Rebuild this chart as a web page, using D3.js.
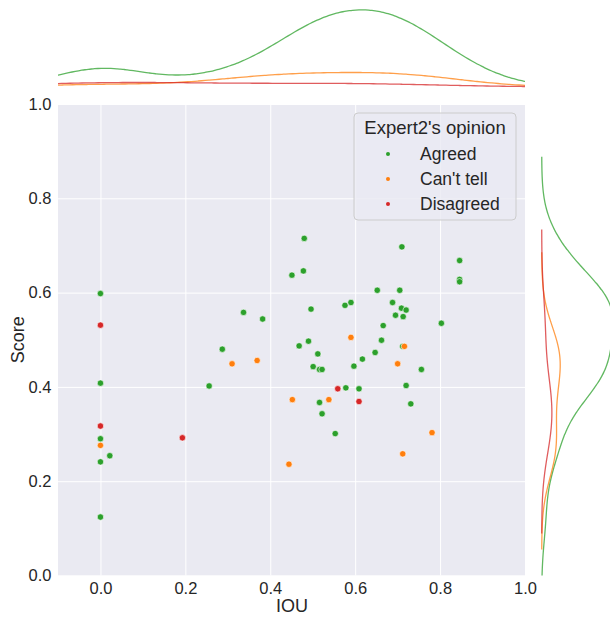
<!DOCTYPE html>
<html lang="en">
<head>
    <meta charset="UTF-8">
    <title>Expert2's opinion</title>
    <script src="https://d3js.org/d3.v7.min.js"></script>
    <style>
        body { margin: 0; background: #ffffff; }
        text { font-family: "Liberation Sans", Arial, sans-serif; fill: #262626; }
    </style>
</head>
<body>
<svg width="610" height="619"></svg>
<script>
    // categories and colours (seaborn default palette)
    var categories = ["Agreed", "Can't tell", "Disagreed"];
    var colors = ["#2ca02c", "#ff7f0e", "#d62728"];

    // [IOU, Score]
    var agreedPts = [
        [0, 0.598], [0, 0.408], [0, 0.290], [0.022, 0.254], [0, 0.241], [0, 0.124],
        [0.256, 0.402], [0.287, 0.480], [0.337, 0.558], [0.382, 0.544], [0.451, 0.637],
        [0.480, 0.715], [0.478, 0.646], [0.468, 0.487], [0.490, 0.497], [0.496, 0.565],
        [0.512, 0.470], [0.501, 0.443], [0.516, 0.437], [0.522, 0.437], [0.516, 0.367],
        [0.522, 0.343], [0.553, 0.301], [0.576, 0.573], [0.590, 0.579], [0.578, 0.398],
        [0.597, 0.444], [0.609, 0.396], [0.617, 0.459], [0.647, 0.473], [0.652, 0.605],
        [0.662, 0.499], [0.666, 0.530], [0.688, 0.579], [0.695, 0.552], [0.705, 0.605],
        [0.709, 0.567], [0.713, 0.549], [0.720, 0.563], [0.710, 0.697], [0.712, 0.486],
        [0.720, 0.403], [0.731, 0.364], [0.756, 0.437], [0.803, 0.535], [0.846, 0.668],
        [0.846, 0.628], [0.846, 0.623]
    ];
    var cantTellPts = [
        [0, 0.276], [0.310, 0.449], [0.369, 0.456], [0.444, 0.236], [0.452, 0.373],
        [0.538, 0.373], [0.590, 0.505], [0.700, 0.449], [0.716, 0.486], [0.712, 0.258],
        [0.781, 0.303]
    ];
    var disagreedPts = [
        [0, 0.531], [0, 0.317], [0.193, 0.292], [0.559, 0.396], [0.609, 0.369]
    ];
    var groups = [agreedPts, cantTellPts, disagreedPts];

    var xTicks = [0.0, 0.2, 0.4, 0.6, 0.8, 1.0];
    var yTicks = [0.0, 0.2, 0.4, 0.6, 0.8, 1.0];

    var plotL = 58, plotR = 525, plotT = 104, plotB = 575.5;
    var margBase = 87;      // baseline of top marginal
    var margBaseR = 541.7;  // baseline of right marginal

    var svg = d3.select("svg");

    var x = d3.scaleLinear().domain([-0.1, 1.0]).range([plotL, plotR]);
    var y = d3.scaleLinear().domain([0, 1]).range([plotB, plotT]);

    // gaussian kde like scipy (scott's rule), weighted by group share
    function kde(values, weight) {
        var n = values.length;
        var sd = d3.deviation(values);
        var bw = sd * Math.pow(n, -0.2);
        var lo = d3.min(values) - 3 * bw, hi = d3.max(values) + 3 * bw;
        var out = [];
        for (var i = 0; i < 200; i++) {
            var t = lo + (hi - lo) * i / 199;
            var s = 0;
            values.forEach(function (v) {
                var z = (t - v) / bw;
                s += Math.exp(-0.5 * z * z);
            });
            out.push([t, weight * s / (n * bw * Math.sqrt(2 * Math.PI))]);
        }
        return out;
    }

    var total = d3.sum(groups, function (g) { return g.length; });
    var kdeX = groups.map(function (g) { return kde(g.map(function (d) { return d[0]; }), g.length / total); });
    var kdeY = groups.map(function (g) { return kde(g.map(function (d) { return d[1]; }), g.length / total); });

    // plot background
    svg.append("rect")
        .attr("x", plotL).attr("y", plotT)
        .attr("width", plotR - plotL).attr("height", plotB - plotT)
        .attr("fill", "#eaeaf2");

    // grid lines
    svg.append("g")
        .attr("transform", "translate(0," + plotB + ")")
        .call(d3.axisBottom(x).tickValues(xTicks).tickSize(-(plotB - plotT)).tickFormat(""))
        .call(function (g) { g.select(".domain").remove(); })
        .selectAll("line").attr("stroke", "#ffffff").attr("stroke-width", 1);
    svg.append("g")
        .attr("transform", "translate(" + plotL + ",0)")
        .call(d3.axisLeft(y).tickValues(yTicks).tickSize(-(plotR - plotL)).tickFormat(""))
        .call(function (g) { g.select(".domain").remove(); })
        .selectAll("line").attr("stroke", "#ffffff").attr("stroke-width", 1);

    // tick labels
    var xAxis = svg.append("g")
        .attr("transform", "translate(0," + plotB + ")")
        .call(d3.axisBottom(x).tickValues(xTicks).tickSize(0).tickPadding(6.5).tickFormat(d3.format(".1f")));
    xAxis.select(".domain").remove();
    xAxis.selectAll("text").attr("font-size", 16.5).attr("fill", "#262626")
        .attr("font-family", "Liberation Sans, Arial, sans-serif");

    var yAxis = svg.append("g")
        .attr("transform", "translate(" + plotL + ",0)")
        .call(d3.axisLeft(y).tickValues(yTicks).tickSize(0).tickPadding(6.5).tickFormat(d3.format(".1f")));
    yAxis.select(".domain").remove();
    yAxis.selectAll("text").attr("font-size", 16.5).attr("fill", "#262626")
        .attr("font-family", "Liberation Sans, Arial, sans-serif");

    // axis titles
    svg.append("text").attr("x", (plotL + plotR) / 2 + 0.5).attr("y", 612)
        .attr("text-anchor", "middle").attr("font-size", 18).text("IOU");
    svg.append("text").attr("transform", "translate(24," + ((plotT + plotB) / 2) + ") rotate(-90)")
        .attr("text-anchor", "middle").attr("font-size", 18).text("Score");

    // scatter points
    groups.forEach(function (g, i) {
        svg.append("g").selectAll("circle").data(g).enter().append("circle")
            .attr("cx", function (d) { return x(d[0]); })
            .attr("cy", function (d) { return y(d[1]); })
            .attr("r", 3.2)
            .attr("fill", colors[i])
            .attr("stroke", "#ffffff")
            .attr("stroke-width", 0.6);
    });

    // marginal plots
    var defs = svg.append("defs");
    defs.append("clipPath").attr("id", "clipTop").append("rect")
        .attr("x", plotL).attr("y", 0).attr("width", plotR - plotL).attr("height", margBase + 5);
    defs.append("clipPath").attr("id", "clipRight").append("rect")
        .attr("x", margBaseR - 5).attr("y", plotT).attr("width", 200).attr("height", plotB - plotT);

    var maxX = d3.max(kdeX, function (k) { return d3.max(k, function (d) { return d[1]; }); });
    var maxY = d3.max(kdeY, function (k) { return d3.max(k, function (d) { return d[1]; }); });
    var dTop = d3.scaleLinear().domain([0, maxX * 1.05]).range([margBase, margBase - 81]);
    var dRight = d3.scaleLinear().domain([0, maxY * 1.05]).range([margBaseR, margBaseR + 75]);

    var lineTop = d3.line().curve(d3.curveBasis)
        .x(function (d) { return x(d[0]); }).y(function (d) { return dTop(d[1]); });
    var lineRight = d3.line().curve(d3.curveBasis)
        .x(function (d) { return dRight(d[1]); }).y(function (d) { return y(d[0]); });

    var gTop = svg.append("g").attr("clip-path", "url(#clipTop)");
    var gRight = svg.append("g").attr("clip-path", "url(#clipRight)");
    for (var i = 0; i < groups.length; i++) {
        gTop.append("path").attr("d", lineTop(kdeX[i]))
            .attr("fill", "none").attr("stroke", colors[i]).attr("stroke-width", 1.3).attr("stroke-opacity", 0.75);
        gRight.append("path").attr("d", lineRight(kdeY[i]))
            .attr("fill", "none").attr("stroke", colors[i]).attr("stroke-width", 1.3).attr("stroke-opacity", 0.75);
    }

    // legend
    var legend = svg.append("g");
    legend.append("rect")
        .attr("x", 354).attr("y", 113).attr("width", 162).attr("height", 107).attr("rx", 4)
        .attr("fill", "#eaeaf2").attr("fill-opacity", 0.8)
        .attr("stroke", "#cccccc").attr("stroke-width", 1);
    legend.append("text").attr("x", 435).attr("y", 134)
        .attr("text-anchor", "middle").attr("font-size", 18.5).text("Expert2's opinion");
    categories.forEach(function (c, i) {
        legend.append("circle").attr("cx", 388).attr("cy", 154 + i * 25).attr("r", 2)
            .attr("fill", colors[i]);
        legend.append("text").attr("x", 420).attr("y", 160 + i * 25)
            .attr("font-size", 17.5).text(c);
    });
</script>
</body>
</html>
